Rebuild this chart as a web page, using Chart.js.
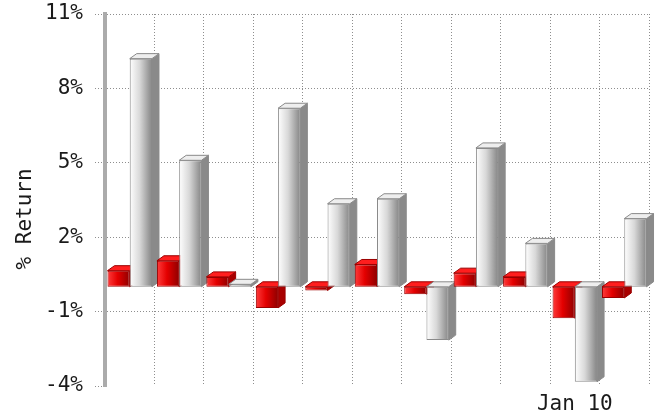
<!DOCTYPE html>
<html>
<head>
<meta charset="utf-8">
<script src="https://cdn.jsdelivr.net/npm/chart.js@4.4.1/dist/chart.umd.min.js"></script>
<style>
  html, body { margin: 0; padding: 0; background: #fff; }
  #wrap { width: 660px; height: 418px; }
</style>
</head>
<body>
<div id="wrap"><canvas id="myChart" width="660" height="418"></canvas></div>
<script>
// categories (only one label is printed on the axis)
const labels = ['', '', '', '', '', '', '', '', '', 'Jan 10', ''];
// series values, % return
const redValues = [0.65, 1.05, 0.4, -0.85, -0.15, 0.9, -0.3, 0.55, 0.4, -1.27, -0.45];
const greyValues = [9.2, 5.1, 0.1, 7.2, 3.35, 3.55, -2.15, 5.6, 1.75, -3.83, 2.75];
// y ticks
const yMin = -4;
const yMax = 11;
const yStep = 3;

const FONT = "'DejaVu Sans Mono', monospace";
const DX = 7, DY = 5;
const GRID = '#8e8e8e';

// face colours per dataset
const faces = [
    {front: ['#ff3c3c', '#e40000', '#8e0000'], top: '#ff1e1e', side: '#a80000', line: '#9a0000'},
    {front: ['#ffffff', '#d8d8d8', '#858585'], top: '#eeeeee', side: '#8a8a8a', line: '#8a8a8a'}
];

const bars3d = {
    id: 'bars3d',
    beforeDatasetsDraw(chart) {
        const c = chart.ctx;
        c.save();
        c.lineWidth = 1;
        for (let i = 0; i < labels.length; i++) {
            chart.data.datasets.forEach((ds, di) => {
                const el = chart.getDatasetMeta(di).data[i];
                const p = el.getProps(['x', 'y', 'base', 'width'], true);
                const f = faces[di];
                const l = p.x - p.width / 2, r = p.x + p.width / 2;
                const top = Math.min(p.y, p.base), bot = Math.max(p.y, p.base);

                // front gradient for the bar chart.js draws afterwards
                const g = c.createLinearGradient(l, 0, r, 0);
                g.addColorStop(0, f.front[0]);
                g.addColorStop(0.45, f.front[1]);
                g.addColorStop(1, f.front[2]);
                el.options.backgroundColor = g;

                // side face
                c.beginPath();
                c.moveTo(r, top);
                c.lineTo(r + DX, top - DY);
                c.lineTo(r + DX, bot - DY);
                c.lineTo(r, bot);
                c.closePath();
                c.fillStyle = f.side;
                c.fill();
                c.strokeStyle = f.line;
                c.stroke();

                // top face
                c.beginPath();
                c.moveTo(l, top);
                c.lineTo(l + DX, top - DY);
                c.lineTo(r + DX, top - DY);
                c.lineTo(r, top);
                c.closePath();
                c.fillStyle = f.top;
                c.fill();
                c.stroke();
            });
        }
        c.restore();
    }
};

const ctx = document.getElementById('myChart');

const myChart = new Chart(ctx, {
    type: 'bar',
    data: {
        labels: labels,
        datasets: [{
            label: 'red',
            data: redValues,
            backgroundColor: () => '#e00000',
            borderColor: faces[0].line,
            borderWidth: 1,
            borderSkipped: false
        }, {
            label: 'grey',
            data: greyValues,
            backgroundColor: () => '#cccccc',
            borderColor: faces[1].line,
            borderWidth: 1,
            borderSkipped: false
        }]
    },
    plugins: [bars3d],
    options: {
        responsive: false,
        animation: false,
        layout: {padding: {top: 14, right: 11, left: 0, bottom: 0}},
        datasets: {bar: {categoryPercentage: 0.9, barPercentage: 1.0}},
        plugins: {
            legend: {display: false},
            tooltip: {enabled: false}
        },
        scales: {
            x: {
                grid: {
                    color: GRID,
                    lineWidth: 1,
                    drawTicks: false,
                    tickLength: 0
                },
                border: {display: false, dash: [1, 2]},
                ticks: {
                    autoSkip: false,
                    maxRotation: 0,
                    minRotation: 0,
                    padding: 6,
                    color: '#1a1a1a',
                    font: {family: FONT, size: 21}
                },
                afterFit(scale) {
                    scale.height = 32;
                    scale.paddingLeft = 0;
                    scale.paddingRight = 0;
                }
            },
            y: {
                min: yMin,
                max: yMax,
                ticks: {
                    stepSize: yStep,
                    padding: 12,
                    color: '#1a1a1a',
                    font: {family: FONT, size: 21},
                    callback: v => v + '%'
                },
                grid: {
                    color: c => c.tick && c.tick.value === yMin ? 'rgba(0,0,0,0)' : GRID,
                    tickColor: GRID,
                    tickLength: 10,
                    tickBorderDash: [1, 2]
                },
                border: {display: true, color: '#ababab', width: 4, dash: [1, 2]},
                title: {
                    display: true,
                    text: '% Return   ',
                    color: '#1a1a1a',
                    font: {family: FONT, size: 21},
                    padding: {top: 13, bottom: 0}
                },
                afterFit(scale) {
                    scale.width = 105;
                    scale.paddingTop = 0;
                    scale.paddingBottom = 0;
                }
            }
        }
    }
});
</script>
</body>
</html>
